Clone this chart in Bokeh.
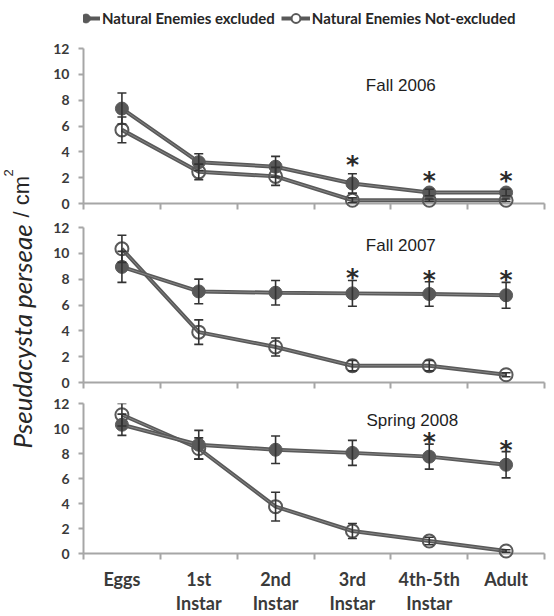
import math
from bokeh.plotting import figure
from bokeh.layouts import column, row
from bokeh.models import (ColumnDataSource, Range1d, FixedTicker, Whisker, TeeHead,
                          Label, Legend, LegendItem)
from bokeh.core.properties import value
from bokeh.embed import file_html
from bokeh.resources import INLINE

# ---------------- data ----------------
stages = ["Eggs", "1st\nInstar", "2nd\nInstar", "3rd\nInstar", "4th-5th\nInstar", "Adult"]
seasons = ["Fall 2006", "Fall 2007", "Spring 2008"]
series_names = ["Natural Enemies excluded", "Natural Enemies Not-excluded"]

excl_2006 = [7.35, 3.2, 2.85, 1.55, 0.85, 0.85]
excl_err_2006 = [1.2, 0.65, 0.8, 0.75, 0.25, 0.25]
open_2006 = [5.7, 2.45, 2.1, 0.25, 0.25, 0.25]
open_err_2006 = [1.0, 0.6, 0.7, 0.2, 0.1, 0.1]
sig_2006 = [0, 0, 0, 1, 1, 1]

excl_2007 = [8.95, 7.05, 6.95, 6.9, 6.85, 6.75]
excl_err_2007 = [1.2, 0.95, 0.95, 1.0, 0.95, 1.0]
open_2007 = [10.35, 3.9, 2.75, 1.3, 1.3, 0.6]
open_err_2007 = [1.05, 0.95, 0.7, 0.4, 0.4, 0.15]
sig_2007 = [0, 0, 0, 1, 1, 1]

excl_2008 = [10.3, 8.7, 8.3, 8.05, 7.75, 7.1]
excl_err_2008 = [0.85, 1.15, 1.1, 1.0, 1.0, 1.05]
open_2008 = [11.1, 8.4, 3.75, 1.8, 1.0, 0.2]
open_err_2008 = [0.9, 0.85, 1.15, 0.6, 0.3, 0.1]
sig_2008 = [0, 0, 0, 0, 1, 1]

y_ticks = [0, 2, 4, 6, 8, 10, 12]

# ---------------- style ----------------
LINE_C = "#595959"
INNER_C = "#858585"
AXIS_C = "#a6a6a6"
TEXT_C = "#3a3a3a"
ERR_C = "#333333"

x_pos = [i + 0.5 for i in range(len(stages))]
boundaries = list(range(len(stages) + 1))


def make_panel(excl, excl_err, opn, opn_err, sig, title, title_xy, height, top, bottom,
               show_labels, star_offset):
    p = figure(width=498, height=height, x_range=Range1d(0, len(stages)), y_range=Range1d(0, 12),
               output_backend="svg", toolbar_location=None, title=None,
               min_border_left=35, min_border_right=2, min_border_top=top, min_border_bottom=bottom)
    p.grid.visible = False
    p.outline_line_color = None
    p.background_fill_color = "white"

    src = ColumnDataSource(dict(
        x=x_pos, excl=excl, opn=opn,
        ex_hi=[m + e for m, e in zip(excl, excl_err)], ex_lo=[m - e for m, e in zip(excl, excl_err)],
        op_hi=[m + e for m, e in zip(opn, opn_err)], op_lo=[m - e for m, e in zip(opn, opn_err)],
    ))

    for col in ["opn", "excl"]:
        p.line("x", col, source=src, line_color=LINE_C, line_width=4, level="annotation")
        p.line("x", col, source=src, line_color=INNER_C, line_width=1, level="annotation")

    for lo, hi in [("op_lo", "op_hi"), ("ex_lo", "ex_hi")]:
        w = Whisker(base="x", lower=lo, upper=hi, source=src, dimension="height",
                    line_color=ERR_C, line_width=1.6, level="annotation",
                    upper_head=TeeHead(size=9, line_color=ERR_C, line_width=1.6),
                    lower_head=TeeHead(size=9, line_color=ERR_C, line_width=1.6))
        p.add_layout(w)

    p.scatter("x", "opn", source=src, marker="circle", size=13, fill_alpha=0,
              line_color=LINE_C, line_width=2, level="annotation")
    p.scatter("x", "excl", source=src, marker="circle", size=13, fill_color=LINE_C,
              line_color=LINE_C, line_width=1, level="annotation")

    star_src = ColumnDataSource(dict(
        x=[x for x, s in zip(x_pos, sig) if s],
        y=[m + e for m, e, s in zip(excl, excl_err, sig) if s],
    ))
    p.text("x", "y", text=value("*"), source=star_src, text_font=value("DejaVu Sans"),
           text_font_style="bold", text_font_size="25px", text_color="#2b2b2b",
           text_align="center", text_baseline="alphabetic", y_offset=star_offset, level="annotation")

    p.add_layout(Label(x=title_xy[0], y=title_xy[1], text=title, text_align="center",
                       text_baseline="middle", text_font="Liberation Sans", text_font_size="17px",
                       text_color="#1e1e1e"))

    # y axis
    ya = p.yaxis[0]
    ya.ticker = FixedTicker(ticks=y_ticks, minor_ticks=[])
    ya.axis_line_color = AXIS_C
    ya.axis_line_width = 2
    ya.major_tick_line_color = AXIS_C
    ya.major_tick_line_width = 2
    ya.major_tick_out = 5
    ya.major_tick_in = 0
    ya.minor_tick_line_color = None
    ya.major_label_standoff = 9
    ya.major_label_text_font = "Lato"
    ya.major_label_text_font_style = "bold"
    ya.major_label_text_font_size = "14px"
    ya.major_label_text_color = TEXT_C

    # x axis: tick marks at category boundaries, labels at centres
    xa = p.xaxis[0]
    xa.ticker = FixedTicker(ticks=x_pos, minor_ticks=boundaries)
    xa.axis_line_color = AXIS_C
    xa.axis_line_width = 2
    xa.major_tick_line_color = None
    xa.major_tick_out = 0
    xa.major_tick_in = 0
    xa.minor_tick_line_color = AXIS_C
    xa.minor_tick_line_width = 2
    xa.minor_tick_out = 6
    xa.minor_tick_in = 0
    xa.major_label_overrides = {x: lab for x, lab in zip(x_pos, stages)}
    if show_labels:
        xa.major_label_standoff = 8
        xa.major_label_text_font = "Lato"
        xa.major_label_text_font_style = "bold"
        xa.major_label_text_font_size = "18px"
        xa.major_label_text_line_height = 1.1
        xa.major_label_text_color = TEXT_C
    else:
        xa.major_label_standoff = 0
        xa.major_label_text_font_size = "0px"
    return p


p1 = make_panel(excl_2006, excl_err_2006, open_2006, open_err_2006, sig_2006, seasons[0],
                (4.13, 9.15), 185, 18, 12, False, -9)
p2 = make_panel(excl_2007, excl_err_2007, open_2007, open_err_2007, sig_2007, seasons[1],
                (4.13, 10.6), 176, 12, 9, False, -2.5)
p3 = make_panel(excl_2008, excl_err_2008, open_2008, open_err_2008, sig_2008, seasons[2],
                (4.28, 10.65), 225, 12, 59, True, -2.5)

# legend strip on top (legend proxies sit outside the visible range)
lf = figure(width=498, height=30, x_range=Range1d(0, 1), y_range=Range1d(0, 1),
            output_backend="svg", toolbar_location=None, title=None,
            x_axis_location=None, y_axis_location=None, min_border=0)
lf.grid.visible = False
lf.outline_line_color = None
proxy = ColumnDataSource(dict(x=[-5, -4], y=[-5, -4]))
lg_ex_l = lf.line("x", "y", source=proxy, line_color=LINE_C, line_width=4)
lg_ex_s = lf.scatter("x", "y", source=proxy, marker="circle", size=10, fill_color=LINE_C,
                     line_color=LINE_C)
lg_op_l = lf.line("x", "y", source=proxy, line_color=LINE_C, line_width=4)
lg_op_s = lf.scatter("x", "y", source=proxy, marker="circle", size=10, fill_color="white",
                     line_color=LINE_C, line_width=2)
legend = Legend(items=[LegendItem(label=series_names[0], renderers=[lg_ex_l, lg_ex_s]),
                       LegendItem(label=series_names[1], renderers=[lg_op_l, lg_op_s])],
                location=(-12, 1), orientation="horizontal", glyph_width=29, glyph_height=22,
                label_standoff=2, spacing=6, padding=0, margin=0,
                border_line_alpha=0, background_fill_alpha=0,
                label_text_font="Lato", label_text_font_style="bold",
                label_text_font_size="15px", label_text_color="#262626")
lf.add_layout(legend)

# y-axis title column
tf = figure(width=48, height=616, x_range=Range1d(0, 48), y_range=Range1d(0, 616),
            output_backend="svg", toolbar_location=None, title=None,
            x_axis_location=None, y_axis_location=None, min_border=0)
tf.grid.visible = False
tf.outline_line_color = None
tf.add_layout(Label(x=21, y=168, text="Pseudacysta perseae", angle=math.pi / 2,
                    text_align="left", text_baseline="alphabetic", text_font="Lato",
                    text_font_style="italic", text_font_size="26px", text_color="#262626"))
tf.add_layout(Label(x=21, y=399, text="/ cm", angle=math.pi / 2,
                    text_align="left", text_baseline="alphabetic", text_font="Liberation Sans",
                    text_font_size="22px", text_color="#262626"))
tf.add_layout(Label(x=8, y=440, text="2", angle=math.pi / 2,
                    text_align="left", text_baseline="alphabetic", text_font="Liberation Sans",
                    text_font_size="13px", text_color="#262626"))

layout = row(tf, column(lf, p1, p2, p3))
open("out.html", "w").write(file_html(layout, INLINE))
